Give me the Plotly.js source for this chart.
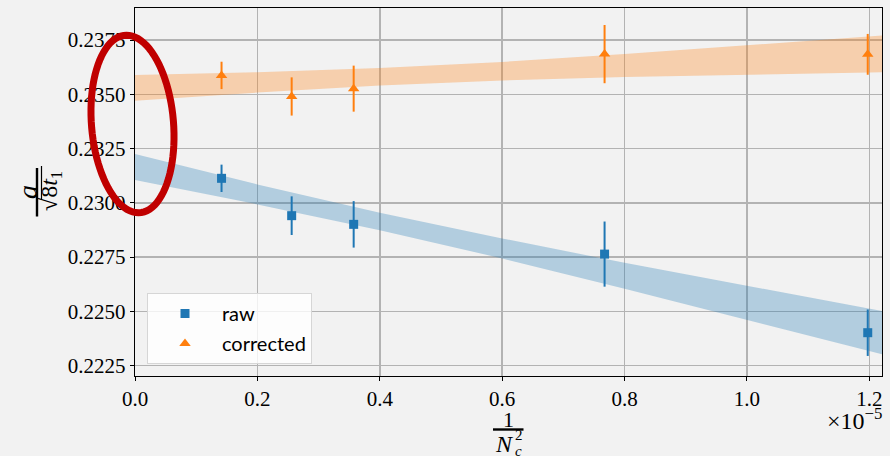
<!DOCTYPE html>
<html><head><meta charset="utf-8">
<script src="https://cdn.plot.ly/plotly-3.0.1.min.js"></script>
<style>html,body{margin:0;padding:0;background:#f2f2f2;}</style>
</head><body><div id="chart" style="width:890px;height:456px;"></div>
<script>
// ---- data ----
const invNc2 = [0.1414e-5, 0.2560e-5, 0.3573e-5, 0.7673e-5, 1.1973e-5];
const rawY = [0.23113, 0.22941, 0.22901, 0.22764, 0.22402];
const rawErr = [0.00063, 0.00089, 0.00107, 0.00150, 0.00107];
const corrY = [0.23587, 0.23490, 0.23526, 0.23685, 0.23684];
const corrErr = [0.00063, 0.00088, 0.00106, 0.00134, 0.00094];
const bandX = [0, 0.2e-5, 0.4e-5, 0.6e-5, 0.8e-5, 1.0e-5, 1.23e-5];
const rawBandLo = [0.23105, 0.22993, 0.22874, 0.22744, 0.22604, 0.22461, 0.22296];
const rawBandHi = [0.23225, 0.23085, 0.22955, 0.22836, 0.22724, 0.22617, 0.22497];
const corrBandLo = [0.23470, 0.23508, 0.23541, 0.23564, 0.23580, 0.23591, 0.23602];
const corrBandHi = [0.23589, 0.23602, 0.23621, 0.23649, 0.23685, 0.23725, 0.23773];
const xTickVals = [0, 0.2e-5, 0.4e-5, 0.6e-5, 0.8e-5, 1.0e-5, 1.2e-5];
const xTickText = ["0.0", "0.2", "0.4", "0.6", "0.8", "1.0", "1.2"];
const yTickVals = [0.2225, 0.2250, 0.2275, 0.2300, 0.2325, 0.2350, 0.2375];
const yTickText = ["0.2225", "0.2250", "0.2275", "0.2300", "0.2325", "0.2350", "0.2375"];
const seriesNames = ["raw", "corrected"];

// ---- layout helpers (pixel -> paper) ----
const L = 135, T = 8, W = 747, H = 368;
const PX = X => (X - L) / W;
const PY = Y => (T + H - Y) / H;
const SERIF = "Liberation Serif, DejaVu Serif, serif";
const BLUE = "#1f77b4", ORANGE = "#ff7f0e";

function poly(xs, lo, hi) {
  return { x: xs.concat(xs.slice().reverse()), y: hi.concat(lo.slice().reverse()) };
}
const rb = poly(bandX, rawBandLo, rawBandHi);
const cb = poly(bandX, corrBandLo, corrBandHi);

const traces = [
  { x: rb.x, y: rb.y, type: "scatter", mode: "lines", fill: "toself",
    fillcolor: "rgba(31,119,180,0.3)", line: { width: 0 }, showlegend: false, hoverinfo: "skip" },
  { x: cb.x, y: cb.y, type: "scatter", mode: "lines", fill: "toself",
    fillcolor: "rgba(255,127,14,0.3)", line: { width: 0 }, showlegend: false, hoverinfo: "skip" },
  { x: invNc2, y: rawY, type: "scatter", mode: "markers", name: seriesNames[0], legendgroup: "a",
    marker: { symbol: "square", size: 9, color: BLUE },
    error_y: { type: "data", array: rawErr, visible: true, thickness: 2, width: 0, color: BLUE } },
  { x: invNc2, y: corrY, type: "scatter", mode: "markers", name: seriesNames[1], legendgroup: "b",
    marker: { symbol: "triangle-up", size: 10, color: ORANGE },
    error_y: { type: "data", array: corrErr, visible: true, thickness: 2, width: 0, color: ORANGE } }
];

// ellipse (decorative red ring)
function ellipsePath(cx, cy, a, b, deg) {
  const th = deg * Math.PI / 180;
  let d = "";
  const n = 90;
  for (let i = 0; i <= n; i++) {
    const t = 2 * Math.PI * i / n;
    const ex = a * Math.cos(t), ey = b * Math.sin(t);
    const X = cx + ex * Math.cos(th) - ey * Math.sin(th);
    const Y = cy + ex * Math.sin(th) + ey * Math.cos(th);
    d += (i === 0 ? "M" : "L") + PX(X).toFixed(5) + "," + PY(Y).toFixed(5);
  }
  return d + "Z";
}

const ann = (X, Y, text, size, extra) => Object.assign({
  xref: "paper", yref: "paper", x: PX(X), y: PY(Y), text: text, showarrow: false,
  xanchor: "center", yanchor: "middle", font: { family: SERIF, size: size, color: "#000" }
}, extra || {});

const layout = {
  width: 890, height: 456,
  margin: { l: L, r: 890 - L - W, t: T, b: 456 - T - H },
  paper_bgcolor: "#f2f2f2", plot_bgcolor: "#f2f2f2",
  showlegend: true,
  legend: {
    x: PX(147), y: PY(293), xanchor: "left", yanchor: "top",
    bgcolor: "rgba(255,255,255,0.8)", bordercolor: "#d6d6d6", borderwidth: 1,
    font: { family: "Lato, sans-serif", size: 20, color: "#000" },
    itemwidth: 64, tracegroupgap: 1
  },
  xaxis: {
    range: [0, 1.2206e-5], tickvals: xTickVals, ticktext: xTickText,
    showgrid: true, gridcolor: "#b3b3b3", gridwidth: 1.5, zeroline: false,
    showline: true, linecolor: "#000", linewidth: 1.2, mirror: true,
    ticks: "outside", ticklen: 4, tickwidth: 1, tickcolor: "#000",
    tickfont: { family: SERIF, size: 21, color: "#000" }
  },
  yaxis: {
    range: [0.222026, 0.238974], tickvals: yTickVals, ticktext: yTickText,
    showgrid: true, gridcolor: "#b3b3b3", gridwidth: 1.5, zeroline: false,
    showline: true, linecolor: "#000", linewidth: 1.2, mirror: true,
    ticks: "outside", ticklen: 4, tickwidth: 1, tickcolor: "#000",
    tickfont: { family: SERIF, size: 21, color: "#000" }
  },
  annotations: [
    ann(27, 192, "<i>a</i>", 28, { textangle: -90 }),
    ann(51, 191, "√8<i>t</i><sub>1</sub>", 24, { textangle: -90 }),
    ann(508, 419, "1", 22),
    ann(504, 444, "<i>N</i>", 24),
    ann(519, 435, "2", 15),
    ann(518, 451, "<i>c</i>", 15),
    ann(884, 419, "×10<sup>−5</sup>", 24, { xanchor: "right" })
  ],
  shapes: [
    { type: "line", xref: "paper", yref: "paper", x0: PX(37), x1: PX(37), y0: PY(168), y1: PY(216.5),
      line: { color: "#000", width: 2.4 } },
    { type: "line", xref: "paper", yref: "paper", x0: PX(41.5), x1: PX(41.5), y0: PY(166), y1: PY(199),
      line: { color: "#000", width: 1.2 } },
    { type: "line", xref: "paper", yref: "paper", x0: PX(493), x1: PX(523.5), y0: PY(429.5), y1: PY(429.5),
      line: { color: "#000", width: 2.4 } },
    { type: "path", xref: "paper", yref: "paper", layer: "above",
      path: ellipsePath(132.5, 124, 41, 89, -4.8),
      line: { color: "#c00000", width: 7 }, fillcolor: "rgba(0,0,0,0)" }
  ]
};

Plotly.newPlot("chart", traces, layout, { displayModeBar: false, staticPlot: true });
</script>
</body></html>
